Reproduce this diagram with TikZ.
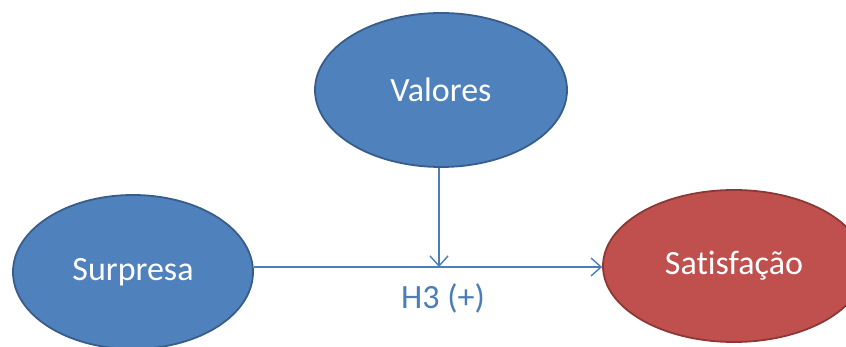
\documentclass[tikz,border=0pt]{standalone}
\usepackage{fontspec}
\setmainfont{Carlito}[Ligatures=NoCommon]
\usetikzlibrary{shapes.geometric,arrows.meta}
\definecolor{blueFill}{HTML}{4F81BD}
\definecolor{blueEdge}{HTML}{385D8A}
\definecolor{redFill}{HTML}{C0504D}
\definecolor{redEdge}{HTML}{8C3836}
\definecolor{linkBlue}{HTML}{4A7EBB}
\tikzset{
  construct/.style={ellipse, draw=blueEdge, fill=blueFill, line width=1.8pt,
    text=white, font=\fontsize{34}{40}\selectfont, inner sep=0pt},
  outcome/.style={construct, draw=redEdge, fill=redFill},
  link/.style={draw=linkBlue, line width=1.4pt,
    -{Straight Barb[length=10pt,width=18pt,line width=1.4pt]}},
  hlabel/.style={text=linkBlue, font=\fontsize{34}{40}\selectfont}
}
\begin{document}
\begin{tikzpicture}[x=1pt,y=-1pt]
  \useasboundingbox (0,0) rectangle (846,347);
  \clip (0,0) rectangle (846,347);
  \node[construct, minimum width=252pt, minimum height=154pt] (val) at (441,90) {Valores};
  \node[construct, minimum width=240pt, minimum height=154pt] (sur) at (133,272) {Surpresa};
  \node[outcome, minimum width=262pt, minimum height=152pt] (sat) at (734,266) {Satisfação};
  \coordinate (mid) at (439,267);
  \draw[link] (sur.east |- mid) -- (sat.west |- mid);
  \draw[link] (val.south -| mid) -- (mid);
  \node[hlabel] (h3) at (443,298) {H3 (+)};
\end{tikzpicture}
\end{document}
